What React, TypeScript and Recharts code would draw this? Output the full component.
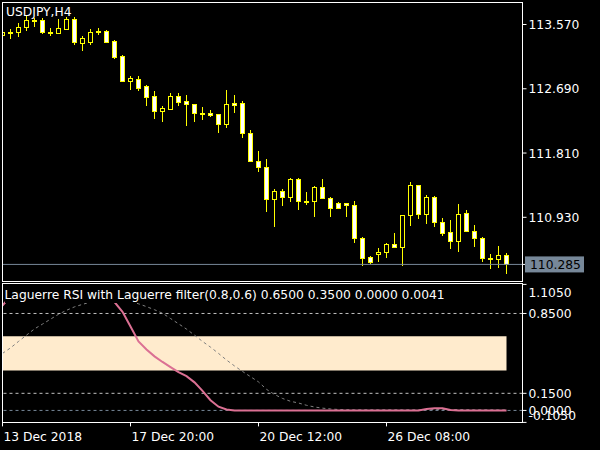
import React from 'react';
import { ComposedChart, Bar, Line, XAxis, YAxis, ReferenceLine, ReferenceArea } from 'recharts';

// USDJPY H4 candles
const opens = [
  113.426, 113.467, 113.463, 113.531, 113.631, 113.631, 113.474, 113.457, 113.508, 113.645,
  113.320, 113.334, 113.485, 113.481, 113.344, 113.138, 112.800, 112.819, 112.728, 112.591,
  112.390, 112.417, 112.591, 112.522, 112.477, 112.358, 112.354, 112.340, 112.203, 112.491,
  112.491, 112.080, 111.701, 111.615, 111.177, 111.290, 111.212, 111.450, 111.160, 111.157,
  111.341, 111.198, 111.122, 111.122, 111.094, 110.643, 110.391, 110.424, 110.451, 110.560,
  110.519, 110.958, 111.372, 110.971, 111.204, 110.862, 110.725, 110.610, 110.985, 110.743,
  110.643, 110.376, 110.355, 110.414,
];
const highs = [
  113.494, 113.508, 113.590, 113.700, 113.654, 113.654, 113.518, 113.645, 113.668, 113.676,
  113.412, 113.508, 113.518, 113.494, 113.357, 113.152, 112.865, 112.865, 112.741, 112.663,
  112.454, 112.628, 112.628, 112.604, 112.488, 112.444, 112.399, 112.351, 112.673, 112.604,
  112.522, 112.125, 111.838, 111.724, 111.313, 111.313, 111.464, 111.464, 111.272, 111.359,
  111.450, 111.205, 111.136, 111.130, 111.153, 110.656, 110.400, 110.514, 110.582, 110.711,
  110.968, 111.418, 111.379, 111.235, 111.222, 110.916, 110.893, 111.112, 111.030, 110.825,
  110.654, 110.428, 110.537, 110.437,
];
const lows = [
  113.398, 113.371, 113.398, 113.485, 113.531, 113.440, 113.416, 113.440, 113.494, 113.289,
  113.211, 113.289, 113.426, 113.320, 113.097, 112.787, 112.673, 112.663, 112.454, 112.276,
  112.239, 112.406, 112.454, 112.180, 112.239, 112.262, 112.299, 112.088, 112.149, 112.354,
  112.012, 111.691, 111.554, 111.007, 110.802, 111.085, 111.144, 111.030, 111.099, 110.930,
  111.177, 110.938, 111.044, 110.930, 110.582, 110.268, 110.287, 110.322, 110.369, 110.510,
  110.268, 110.811, 110.903, 110.838, 110.793, 110.674, 110.496, 110.451, 110.736, 110.519,
  110.322, 110.218, 110.232, 110.150,
];
const closes = [
  113.471, 113.460, 113.531, 113.631, 113.624, 113.463, 113.468, 113.518, 113.645, 113.334,
  113.381, 113.463, 113.463, 113.334, 113.129, 112.800, 112.841, 112.704, 112.581, 112.390,
  112.431, 112.591, 112.513, 112.477, 112.354, 112.351, 112.335, 112.203, 112.477, 112.472,
  112.080, 111.705, 111.615, 111.177, 111.290, 111.212, 111.450, 111.157, 111.153, 111.341,
  111.190, 111.053, 111.053, 111.094, 110.643, 110.369, 110.322, 110.451, 110.560, 110.519,
  110.958, 111.372, 110.971, 111.212, 110.862, 110.719, 110.610, 110.971, 110.743, 110.643,
  110.369, 110.362, 110.414, 110.285,
];

// Laguerre RSI (pink) and Laguerre filter (grey dashed)
const lrsi = [
  0.92, 1, 1, 1, 1, 1, 1, 1, 1, 1,
  1, 1, 1, 1, 0.95, 0.865, 0.735, 0.605, 0.535, 0.474,
  0.425, 0.38, 0.336, 0.3, 0.246, 0.172, 0.09, 0.033, 0.008, 0,
  0, 0, 0, 0, 0, 0, 0, 0, 0, 0,
  0, 0, 0, 0, 0, 0, 0, 0, 0, 0,
  0, 0, 0, 0.012, 0.02, 0.018, 0.004, 0, 0, 0,
  0, 0, 0, 0,
];
const filt = [
  0.5, 0.548, 0.605, 0.66, 0.715, 0.757, 0.8, 0.843, 0.878, 0.908,
  0.93, 0.95, 0.965, 0.975, 0.978, 0.97, 0.955, 0.935, 0.91, 0.883,
  0.852, 0.806, 0.76, 0.713, 0.66, 0.605, 0.555, 0.5, 0.442, 0.39,
  0.342, 0.296, 0.25, 0.185, 0.14, 0.105, 0.08, 0.065, 0.045, 0.03,
  0.02, 0.013, 0.008, 0.006, 0.005, 0.005, 0.005, 0.005, 0.005, 0.005,
  0.005, 0.005, 0.005, 0.006, 0.008, 0.009, 0.008, 0.007, 0.006, 0.005,
  0.005, 0.0045, 0.0043, 0.0041,
];

const priceTicks = [113.57, 112.69, 111.81, 110.93];
const lastPrice = 110.285;
const levelTicks = [1.105, 0.85, 0.15, 0, -0.105];
const timeTickIdx = [0, 16, 32, 48];
const timeTickLabels = ['13 Dec 2018', '17 Dec 20:00', '20 Dec 12:00', '26 Dec 08:00'];

const candles = opens.map((o, i) => ({
  i,
  open: o,
  high: highs[i],
  low: lows[i],
  close: closes[i],
  range: [lows[i], highs[i]],
}));
const indicator = lrsi.map((v, i) => ({ i, lrsi: v, filt: filt[i] }));

const FONT = "'DejaVu Sans', sans-serif";
const FS = 12.3;

const Candle = (props: any) => {
  const { x, y, width, height, payload } = props;
  if (!payload) return null;
  const { open, close, high, low } = payload;
  const top = height >= 0 ? y : y + height;
  const h = Math.abs(height);
  const k = h / (high - low);
  const yOf = (v: number) => top + (high - v) * k;
  const cx = Math.floor(x + width / 2) + 0.5;
  let bTop = Math.round(yOf(Math.max(open, close))) + 0.5;
  let bBot = Math.round(yOf(Math.min(open, close))) + 0.5;
  if (bBot - bTop < 1) bBot = bTop + 1;
  const bear = close < open;
  return (
    <g>
      <line x1={cx} x2={cx} y1={Math.round(top)} y2={Math.round(top + h)} stroke="#FFFF00" strokeWidth={1} />
      <rect x={cx - 2} y={bTop} width={4} height={bBot - bTop} fill={bear ? '#FFFFFF' : '#000000'} stroke="#FFFF00" strokeWidth={1} />
    </g>
  );
};

const PriceTick = (props: any) => {
  const { x, y, payload } = props;
  const v = payload.value;
  if (v === lastPrice) {
    return (
      <g>
        <rect x={x - 3.5} y={y - 8} width={59} height={16} fill="#778899" />
        <text x={x + 1.5} y={y} dy={4.5} fill="#000" fontSize={FS} fontFamily={FONT}>{v.toFixed(3)}</text>
      </g>
    );
  }
  return (
    <text x={x} y={y} dy={4.5} fill="#fff" fontSize={FS} fontFamily={FONT}>{v.toFixed(3)}</text>
  );
};

const LevelTick = (props: any) => {
  const { x, y, payload } = props;
  const v = payload.value;
  let shift = 0;
  if (v === 1.105) shift = 7.6;
  if (v === -0.105) shift = -7.4;
  return (
    <text x={x} y={y + shift} dy={4.5} fill="#fff" fontSize={FS} fontFamily={FONT}>{v.toFixed(4)}</text>
  );
};

const TimeTick = (props: any) => {
  const { x, y, payload } = props;
  const idx = timeTickIdx.indexOf(payload.value);
  return (
    <text x={x + 1} y={y} dy={13} fill="#fff" fontSize={FS} fontFamily={FONT} textAnchor="start">
      {timeTickLabels[idx]}
    </text>
  );
};

const frame = (top: number, height: number): React.CSSProperties => ({
  position: 'absolute',
  left: 2,
  top,
  width: 519,
  height,
  border: '1px solid #fff',
  pointerEvents: 'none',
});

export default function App() {
  return (
    <div style={{ position: 'fixed', left: 0, top: 0, width: 600, height: 450, background: '#000', overflow: 'hidden' }}>
      <div style={{ position: 'absolute', left: 0, top: 0 }}>
        <ComposedChart width={600} height={283} data={candles} margin={{ top: 2, right: 0, left: 2.5, bottom: 2 }}>
          <XAxis type="number" dataKey="i" domain={[0, 65]} hide allowDataOverflow />
          <YAxis
            orientation="right"
            type="number"
            domain={[110.058, 113.878]}
            ticks={[...priceTicks, lastPrice]}
            interval={0}
            width={77.5}
            tickSize={4}
            tickMargin={2}
            tickLine={{ stroke: '#fff' }}
            axisLine={false}
            tick={<PriceTick />}
            allowDataOverflow
          />
          <ReferenceLine y={lastPrice} stroke="#778899" strokeWidth={1} />
          <Bar dataKey="range" barSize={6} shape={<Candle />} isAnimationActive={false} />
        </ComposedChart>
      </div>
      <div style={{ position: 'absolute', left: 0, top: 283 }}>
        <ComposedChart width={600} height={167} data={indicator} margin={{ top: 1.4, right: 0, left: 2.5, bottom: 0 }}>
          <XAxis
            type="number"
            dataKey="i"
            domain={[0, 65]}
            ticks={timeTickIdx}
            interval={0}
            height={27.6}
            tickSize={4}
            tickMargin={2}
            tickLine={{ stroke: '#fff' }}
            axisLine={false}
            tick={<TimeTick />}
            allowDataOverflow
          />
          <YAxis
            orientation="right"
            type="number"
            domain={[-0.105, 1.105]}
            ticks={levelTicks}
            interval={0}
            width={77.5}
            tickSize={4}
            tickMargin={2}
            tickLine={{ stroke: '#fff' }}
            axisLine={false}
            tick={<LevelTick />}
            allowDataOverflow
          />
          <ReferenceArea x1={0} x2={63} y1={0.35} y2={0.65} fill="#FFEBCD" fillOpacity={1} stroke="none" />
          <ReferenceLine y={0.85} stroke="#C0C0C0" strokeDasharray="3 3" />
          <ReferenceLine y={0.15} stroke="#C0C0C0" strokeDasharray="3 3" />
          <ReferenceLine y={0} stroke="#778899" strokeDasharray="3 3" />
          <Line type="linear" dataKey="filt" stroke="#808080" strokeWidth={1} strokeDasharray="3 3" dot={false} isAnimationActive={false} />
          <Line type="linear" dataKey="lrsi" stroke="#DB7093" strokeWidth={2} dot={false} isAnimationActive={false} />
        </ComposedChart>
      </div>
      <div style={frame(2, 278)} />
      <div style={frame(283, 138)} />
      <div style={{ position: 'absolute', left: 6, top: 4.5, color: '#fff', fontFamily: FONT, fontSize: FS, lineHeight: '15px', whiteSpace: 'nowrap' }}>
        USDJPY,H4
      </div>
      <div style={{ position: 'absolute', left: 4.5, top: 288.2, color: '#fff', background: '#000', fontFamily: FONT, fontSize: FS, lineHeight: '15px', whiteSpace: 'nowrap' }}>
        Laguerre RSI with Laguerre filter(0.8,0.6) 0.6500 0.3500 0.0000 0.0041
      </div>
    </div>
  );
}
